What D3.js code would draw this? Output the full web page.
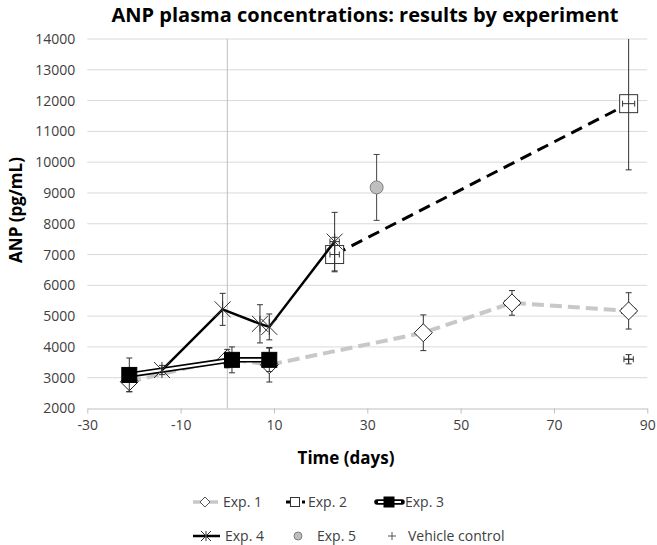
<!DOCTYPE html>
<html>
<head>
<meta charset="utf-8">
<script src="https://cdn.jsdelivr.net/npm/d3@7"></script>
<style>
  body { margin: 0; background: #fff; }
  text { font-family: "Open Sans", sans-serif; }
</style>
</head>
<body>
<svg id="chart" width="657" height="545"></svg>
<script>
// ── Data ─────────────────────────────────────────────────────────────────────
const xTicks = [-30, -10, 10, 30, 50, 70, 90];
const yTicks = [2000, 3000, 4000, 5000, 6000, 7000, 8000, 9000, 10000, 11000, 12000, 13000, 14000];

const exp1Days = [-21, 0, 9, 42, 61, 86];
const exp1Values = [2870, 3620, 3420, 4460, 5430, 5170];
const exp1YErr = [320, 300, 560, 580, 400, 590];
const exp1XErr = [0, 0, 0, 1, 1.5, 1.5];

const exp2Days = [23, 86];
const exp2Values = [7000, 11900];
const exp2YErr = [560, 2150];
const exp2XErr = [1, 1.3];

const exp3Days = [-21, 1, 9];
const exp3Values = [3090, 3580, 3580];
const exp3YErr = [550, 420, 380];

const exp4Days = [-14, -1, 7, 9, 23];
const exp4Values = [3250, 5220, 4750, 4650, 7420];
const exp4YErr = [150, 520, 620, 420, 950];
const exp4XErr = [0, 0, 0, 0, 1];

const exp5Days = [32];
const exp5Values = [9180];
const exp5YErr = [1070];

const vehicleDays = [86];
const vehicleValues = [3600];
const vehicleYErr = [150];
const vehicleXErr = [1];

const legendLabels = ["Exp. 1", "Exp. 2", "Exp. 3", "Exp. 4", "Exp. 5", "Vehicle control"];

// ── Setup ────────────────────────────────────────────────────────────────────
const svg = d3.select("#chart");
const x = d3.scaleLinear().domain([-30, 90]).range([87.3, 647.3]);
const y = d3.scaleLinear().domain([2000, 14000]).range([408.5, 39]);

svg.append("defs").append("clipPath").attr("id", "plot-clip")
  .append("rect")
  .attr("x", x.range()[0]).attr("y", y.range()[1])
  .attr("width", x.range()[1] - x.range()[0])
  .attr("height", y.range()[0] - y.range()[1]);

// gridlines
svg.append("g")
  .selectAll("line")
  .data(yTicks.slice(1))
  .join("line")
  .attr("x1", x.range()[0]).attr("x2", x.range()[1])
  .attr("y1", (d) => y(d)).attr("y2", (d) => y(d))
  .attr("stroke", "#d9d9d9").attr("stroke-width", 1);

// vertical axis crosses at day 0
svg.append("line")
  .attr("x1", x(0)).attr("x2", x(0))
  .attr("y1", y(14000)).attr("y2", y(2000))
  .attr("stroke", "#bfbfbf").attr("stroke-width", 1);

// x axis
const xAxis = svg.append("g")
  .attr("transform", `translate(0,${y(2000)})`)
  .call(d3.axisBottom(x).tickValues(xTicks).tickFormat((d) => String(d))
    .tickSize(5).tickSizeOuter(0).tickPadding(7));
xAxis.select(".domain").attr("stroke", "#bfbfbf");
xAxis.selectAll(".tick line").attr("stroke", "#bfbfbf");
xAxis.selectAll(".tick text")
  .attr("fill", "#404040").attr("font-size", "14px")
  .attr("font-family", "Open Sans, sans-serif");

// y axis labels (no line on the left)
const yAxis = svg.append("g")
  .attr("transform", `translate(${x.range()[0]},0)`)
  .call(d3.axisLeft(y).tickValues(yTicks).tickFormat((d) => String(d))
    .tickSize(0).tickPadding(12));
yAxis.select(".domain").remove();
yAxis.selectAll(".tick text")
  .attr("fill", "#404040").attr("font-size", "14px")
  .attr("font-family", "Open Sans, sans-serif");

// titles
svg.append("text")
  .attr("x", 365).attr("y", 22)
  .attr("text-anchor", "middle")
  .attr("font-size", "20px").attr("font-weight", "bold")
  .attr("fill", "#000")
  .text("ANP plasma concentrations: results by experiment");

svg.append("text")
  .attr("x", 346).attr("y", 464)
  .attr("text-anchor", "middle")
  .attr("font-size", "17px").attr("font-weight", "bold")
  .text("Time (days)");

svg.append("text")
  .attr("transform", "translate(22,210) rotate(-90)")
  .attr("text-anchor", "middle")
  .attr("font-size", "17px").attr("font-weight", "bold")
  .text("ANP (pg/mL)");

// ── Marker shapes ────────────────────────────────────────────────────────────
function diamond(g, s, fill, stroke) {
  g.append("path")
    .attr("d", `M0,${-s}L${s},0L0,${s}L${-s},0Z`)
    .attr("fill", fill).attr("stroke", stroke).attr("stroke-width", 1);
}
function square(g, s, fill, stroke) {
  g.append("rect")
    .attr("x", -s).attr("y", -s).attr("width", 2 * s).attr("height", 2 * s)
    .attr("fill", fill).attr("stroke", stroke).attr("stroke-width", 1);
}
function star(g, s, stroke) {
  g.append("path")
    .attr("d", `M${-s},${-s}L${s},${s}M${-s},${s}L${s},${-s}M0,${-s}L0,${s}`)
    .attr("fill", "none").attr("stroke", stroke).attr("stroke-width", 1);
}
function circle(g, r, fill, stroke) {
  g.append("circle").attr("r", r)
    .attr("fill", fill).attr("stroke", stroke).attr("stroke-width", 1);
}
function plus(g, s, stroke) {
  g.append("path")
    .attr("d", `M${-s},0L${s},0M0,${-s}L0,${s}`)
    .attr("fill", "none").attr("stroke", stroke).attr("stroke-width", 1);
}

const plot = svg.append("g").attr("clip-path", "url(#plot-clip)");
const line = d3.line().x((d) => x(d.day)).y((d) => y(d.value));

function rows(days, values, yErr, xErr) {
  return days.map((day, i) => ({
    day, value: values[i],
    yErr: yErr ? yErr[i] : 0,
    xErr: xErr ? xErr[i] : 0,
  }));
}

function errorBars(g, data, color) {
  const cap = 3;
  data.forEach((d) => {
    if (d.yErr) {
      const y0 = y(d.value - d.yErr), y1 = y(d.value + d.yErr), cx = x(d.day);
      g.append("path")
        .attr("d", `M${cx},${y0}L${cx},${y1}M${cx - cap},${y0}L${cx + cap},${y0}M${cx - cap},${y1}L${cx + cap},${y1}`)
        .attr("stroke", color).attr("stroke-width", 1).attr("fill", "none");
    }
    if (d.xErr) {
      const x0 = x(d.day - d.xErr), x1 = x(d.day + d.xErr), cy = y(d.value);
      g.append("path")
        .attr("d", `M${x0},${cy}L${x1},${cy}M${x0},${cy - cap}L${x0},${cy + cap}M${x1},${cy - cap}L${x1},${cy + cap}`)
        .attr("stroke", color).attr("stroke-width", 1).attr("fill", "none");
    }
  });
}

function drawMarkers(g, data, drawFn) {
  data.forEach((d) => {
    const m = g.append("g").attr("transform", `translate(${x(d.day)},${y(d.value)})`);
    drawFn(m);
  });
}

// ── Series ───────────────────────────────────────────────────────────────────
const exp1 = rows(exp1Days, exp1Values, exp1YErr, exp1XErr);
const exp2 = rows(exp2Days, exp2Values, exp2YErr, exp2XErr);
const exp3 = rows(exp3Days, exp3Values, exp3YErr);
const exp4 = rows(exp4Days, exp4Values, exp4YErr, exp4XErr);
const exp5 = rows(exp5Days, exp5Values, exp5YErr);
const vehicle = rows(vehicleDays, vehicleValues, vehicleYErr, vehicleXErr);

// Exp. 1 – light grey dashed, open diamonds
plot.append("path").datum(exp1).attr("d", line)
  .attr("fill", "none").attr("stroke", "#c8c8c8")
  .attr("stroke-width", 4).attr("stroke-dasharray", "12,6");
errorBars(plot, exp1, "#333");
drawMarkers(plot, exp1, (m) => diamond(m, 9, "#fff", "#222"));

// Exp. 2 – black dashed, open squares
plot.append("path").datum(exp2).attr("d", line)
  .attr("fill", "none").attr("stroke", "#000")
  .attr("stroke-width", 3).attr("stroke-dasharray", "12,7");
drawMarkers(plot, exp2, (m) => square(m, 9, "#fff", "#333"));
errorBars(plot, exp2, "#333");

// Exp. 3 – double black line, filled squares
plot.append("path").datum(exp3).attr("d", line)
  .attr("fill", "none").attr("stroke", "#000").attr("stroke-width", 5.5);
plot.append("path").datum(exp3).attr("d", line)
  .attr("fill", "none").attr("stroke", "#fff").attr("stroke-width", 2.2);
errorBars(plot, exp3, "#333");
drawMarkers(plot, exp3, (m) => square(m, 7.5, "#000", "#000"));

// Exp. 4 – solid black, star markers
plot.append("path").datum(exp4).attr("d", line)
  .attr("fill", "none").attr("stroke", "#000").attr("stroke-width", 2.5);
errorBars(plot, exp4, "#333");
drawMarkers(plot, exp4, (m) => star(m, 8, "#333"));

// Exp. 5 – grey circle
errorBars(plot, exp5, "#444");
drawMarkers(plot, exp5, (m) => circle(m, 6.5, "#bfbfbf", "#7f7f7f"));

// Vehicle control – plus
errorBars(plot, vehicle, "#333");
drawMarkers(plot, vehicle, (m) => plus(m, 4, "#333"));

// ── Legend ───────────────────────────────────────────────────────────────────
const legendPos = [
  { sx: 193, tx: 223, y: 502 },
  { sx: 286, tx: 308, y: 502 },
  { sx: 377, tx: 405, y: 502 },
  { sx: 193, tx: 225, y: 536 },
  { sx: 298, tx: 317, y: 536 },
  { sx: 392, tx: 408, y: 536 },
];
const legend = svg.append("g");
const sampleFns = [
  (g) => {
    g.append("line").attr("x1", 0).attr("x2", 25).attr("stroke", "#c8c8c8").attr("stroke-width", 3.5);
    const m = g.append("g").attr("transform", "translate(12,0)");
    diamond(m, 5, "#fff", "#555");
  },
  (g) => {
    g.append("line").attr("x1", 0).attr("x2", 10).attr("stroke", "#000").attr("stroke-width", 3);
    g.append("line").attr("x1", 16).attr("x2", 19).attr("stroke", "#000").attr("stroke-width", 3);
    const m = g.append("g").attr("transform", "translate(9,0)");
    square(m, 4.5, "#fff", "#333");
  },
  (g) => {
    g.append("line").attr("x1", 0).attr("x2", 25).attr("stroke", "#000").attr("stroke-width", 5.5).attr("stroke-linecap", "round");
    g.append("line").attr("x1", 1).attr("x2", 24).attr("stroke", "#fff").attr("stroke-width", 2);
    const m = g.append("g").attr("transform", "translate(12,0)");
    square(m, 5, "#000", "#000");
  },
  (g) => {
    g.append("line").attr("x1", 0).attr("x2", 27).attr("stroke", "#000").attr("stroke-width", 2.5);
    const m = g.append("g").attr("transform", "translate(13,0)");
    star(m, 5, "#333");
  },
  (g) => circle(g, 4, "#bfbfbf", "#7f7f7f"),
  (g) => plus(g, 4, "#555"),
];
legendLabels.forEach((label, i) => {
  const p = legendPos[i];
  const g = legend.append("g").attr("transform", `translate(${p.sx},${p.y})`);
  sampleFns[i](g);
  legend.append("text")
    .attr("x", p.tx).attr("y", p.y)
    .attr("dy", "0.35em")
    .attr("font-size", "14px")
    .attr("fill", "#404040")
    .text(label);
});
</script>
</body>
</html>
